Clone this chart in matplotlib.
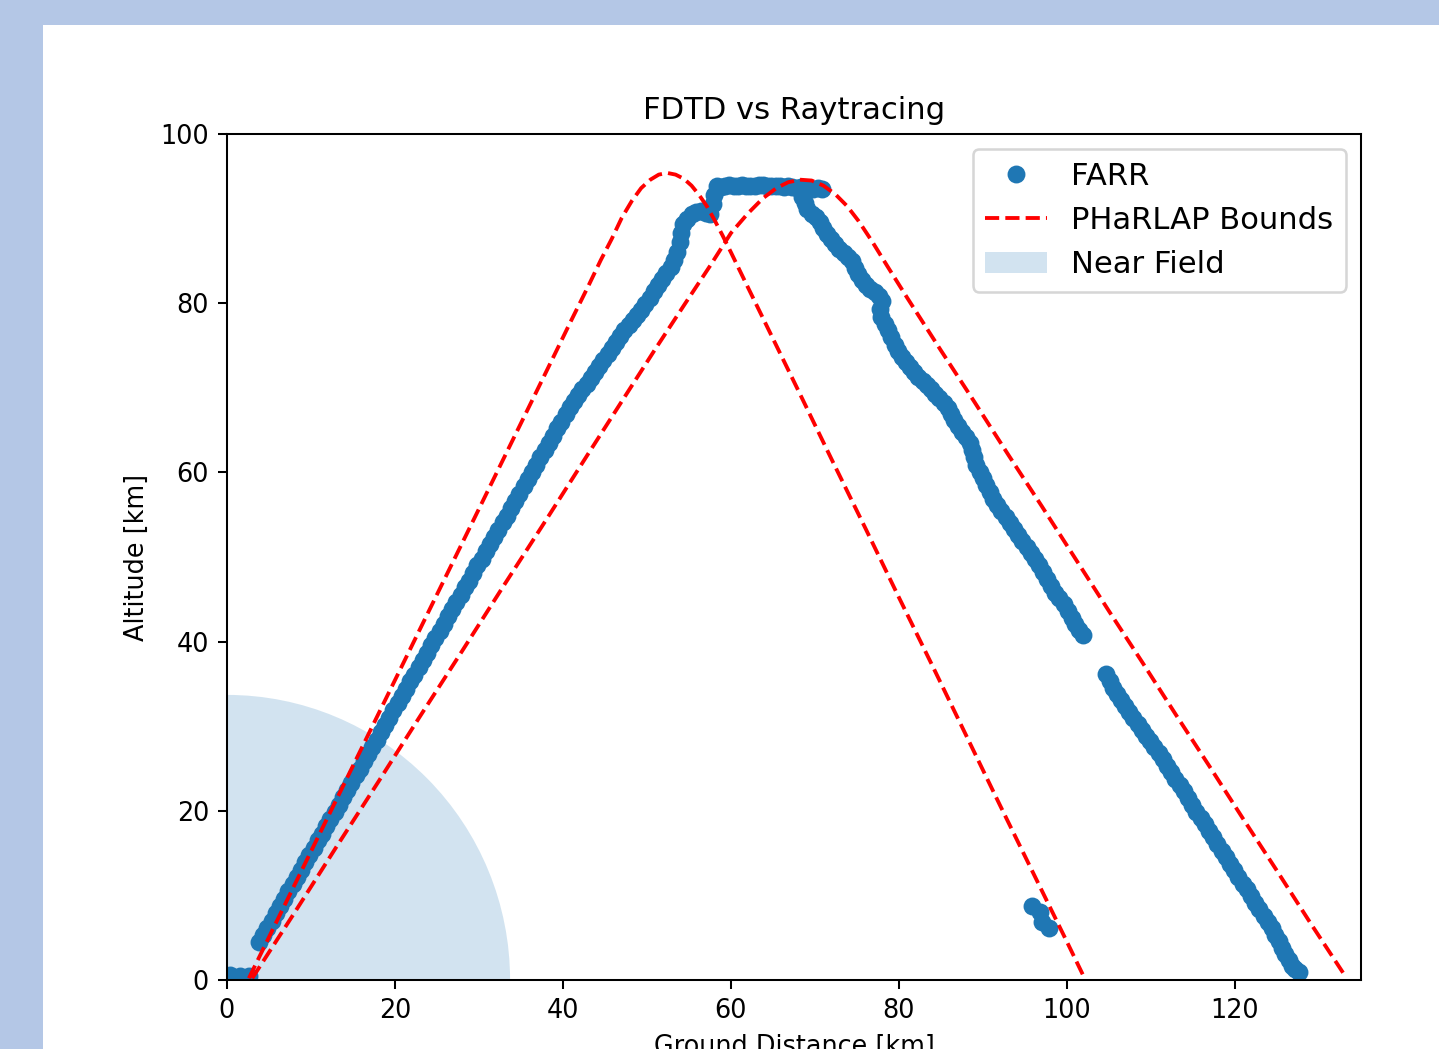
import matplotlib
matplotlib.use("Agg")
import matplotlib.pyplot as plt
from matplotlib.patches import Circle, Rectangle

# FARR ray path (ground distance, altitude) in km
farr_x = [
    0.4, 1.5, 2.6,
    3.8, 4.3, 4.8, 5.3, 5.8, 6.3, 6.8, 7.3, 7.8, 8.3, 8.8, 9.3, 9.8, 10.3,
    10.8, 11.3, 11.8, 12.3, 12.8, 13.3, 13.8, 14.3, 14.8, 15.3, 15.8, 16.3,
    16.8, 17.3, 17.8, 18.3, 18.8, 19.3, 19.8, 20.3, 20.8, 21.3, 21.8, 22.3,
    22.8, 23.3, 23.8, 24.3, 24.8, 25.3, 25.8, 26.3, 26.8, 27.3, 27.8, 28.3,
    28.8, 29.3, 29.8, 30.3, 30.8, 31.3, 31.8, 32.3, 32.8, 33.3, 33.8, 34.3,
    34.8, 35.3, 35.8, 36.3, 36.8, 37.3, 37.8, 38.3, 38.8, 39.3, 39.8, 40.3,
    40.8, 41.3, 41.8, 42.3, 42.8, 43.3, 43.8, 44.3, 44.8, 45.3, 45.8, 46.3,
    46.8, 47.3, 47.8, 48.3, 48.8, 49.3, 49.8, 50.3, 50.8, 51.3, 51.8, 52.3,
    52.8, 53.2, 53.6, 53.9, 54.1, 54.3, 54.8, 55.3, 55.8, 56.4, 57.0, 57.5,
    57.8, 58.0, 58.3,
    58.8, 59.3, 59.8, 60.3, 60.8, 61.3, 61.8, 62.3, 62.8, 63.3, 63.8, 64.3,
    64.8, 65.3, 65.8, 66.3, 66.8, 67.3, 67.8, 68.3, 68.8, 69.3, 69.8, 70.3,
    70.8,
    68.5, 68.8, 69.1, 69.6, 70.1, 70.6, 71.0, 71.4, 71.9, 72.4, 72.9, 73.4,
    73.9, 74.4, 74.8, 75.1, 75.6, 76.1, 76.6, 77.1, 77.6, 78.0, 77.7, 77.9,
    78.3, 78.7, 79.1, 79.5, 79.9, 80.3, 80.8, 81.3, 81.8, 82.3, 82.8, 83.3,
    83.8, 84.3, 84.8, 85.3, 85.8, 86.2, 86.6, 87.0, 87.5, 88.0, 88.4, 88.7,
    88.9, 89.2, 89.6, 90.0, 90.4, 90.8, 91.2, 91.7, 92.2, 92.7, 93.2, 93.7,
    94.2, 94.7, 95.2, 95.7, 96.2, 96.7, 97.2, 97.6, 98.1, 98.6, 99.1, 99.6,
    100.1, 100.6, 101.0, 101.4, 101.9,
    95.8, 96.8, 97.0, 97.8,
    104.7, 105.1, 105.5, 105.9, 106.4, 106.9, 107.4, 107.9, 108.4, 108.9,
    109.4, 109.9, 110.4, 110.9, 111.4, 111.9, 112.4, 112.9, 113.4, 113.9,
    114.4, 114.9, 115.4, 115.9, 116.4, 116.9, 117.4, 117.9, 118.4, 118.9,
    119.4, 119.9, 120.4, 120.9, 121.4, 121.9, 122.4, 122.9, 123.4, 123.9,
    124.4, 124.8, 125.2, 125.6, 126.0, 126.4, 126.8, 127.2, 127.6,
]
farr_y = [
    0.6, 0.5, 0.5,
    4.5, 5.3, 6.2, 7.0, 7.9, 8.8, 9.6, 10.5, 11.3, 12.2, 13.0, 13.9, 14.8, 15.6,
    16.5, 17.3, 18.2, 19.0, 19.9, 20.7, 21.6, 22.5, 23.3, 24.2, 25.0, 25.9,
    26.7, 27.6, 28.4, 29.3, 30.1, 31.0, 31.9, 32.7, 33.6, 34.4, 35.3, 36.1,
    37.0, 37.8, 38.7, 39.6, 40.4, 41.3, 42.1, 43.0, 43.8, 44.7, 45.5, 46.4,
    47.2, 48.1, 49.0, 49.8, 50.7, 51.5, 52.4, 53.2, 54.1, 54.9, 55.8, 56.6,
    57.5, 58.4, 59.2, 60.1, 60.9, 61.8, 62.6, 63.5, 64.3, 65.2, 66.0, 66.9,
    67.7, 68.4, 69.1, 69.8, 70.5, 71.2, 71.9, 72.6, 73.3, 74.0, 74.7, 75.4,
    76.1, 76.8, 77.4, 78.0, 78.6, 79.2, 79.9, 80.6, 81.4, 82.2, 82.9, 83.6,
    84.3, 85.1, 86.1, 87.2, 88.3, 89.4, 90.0, 90.5, 90.8, 90.9, 90.7, 90.6,
    91.7, 92.8, 93.8,
    93.7, 93.9, 94.0, 93.8, 93.9, 94.0, 93.9, 93.8, 93.9, 94.0, 94.0, 93.9,
    93.8, 93.9, 93.8, 93.7, 93.8, 93.7, 93.6, 93.7, 93.5, 93.6, 93.5, 93.6,
    93.5,
    92.6, 91.8, 91.1, 90.6, 90.2, 89.6, 88.9, 88.2, 87.6, 87.0, 86.4, 85.9,
    85.5, 85.0, 84.2, 83.4, 82.8, 82.2, 81.7, 81.3, 80.8, 80.3, 79.3, 78.4,
    77.6, 76.8, 76.0, 75.1, 74.3, 73.6, 73.0, 72.4, 71.9, 71.3, 70.8, 70.3,
    69.8, 69.3, 68.8, 68.2, 67.6, 66.9, 66.2, 65.5, 64.8, 64.2, 63.5, 62.7,
    61.8, 60.9, 60.1, 59.3, 58.5, 57.7, 56.9, 56.1, 55.4, 54.7, 54.0, 53.3,
    52.6, 51.9, 51.2, 50.5, 49.8, 49.0, 48.2, 47.4, 46.6, 45.8, 45.1, 44.4,
    43.6, 42.8, 42.1, 41.4, 40.8,
    8.7, 8.0, 6.9, 6.1,
    36.2, 35.3, 34.5, 33.8, 33.1, 32.4, 31.7, 31.0, 30.3, 29.6,
    28.9, 28.2, 27.5, 26.8, 26.1, 25.3, 24.6, 23.8, 23.0, 22.3,
    21.5, 20.7, 19.9, 19.1, 18.4, 17.6, 16.9, 16.1, 15.3, 14.5,
    13.7, 13.0, 12.2, 11.4, 10.7, 9.9, 9.1, 8.4, 7.6, 6.9,
    6.1, 5.3, 4.6, 3.8, 3.1, 2.4, 1.7, 1.3, 1.0,
]

# PHaRLAP ray bounds
inner_x = [2.6, 6.0, 10.0, 14.0, 18.0, 22.0, 26.0, 30.0, 34.0, 38.0, 41.0,
           43.0, 44.5, 45.8, 47.0, 48.2, 49.3, 50.4, 51.4, 52.4, 53.4, 54.4,
           55.3, 56.2, 57.1, 58.0, 59.0, 60.0, 62.0, 65.0, 68.0, 72.0, 76.0,
           80.0, 84.0, 88.0, 92.0, 96.0, 100.0, 101.9]
inner_y = [0.2, 7.1, 15.2, 23.3, 31.4, 39.5, 47.6, 55.7, 63.8, 71.9, 78.0,
           82.0, 85.1, 87.6, 90.1, 92.1, 93.6, 94.6, 95.2, 95.4, 95.2, 94.7,
           93.9, 92.8, 91.5, 89.9, 88.0, 86.0, 81.9, 75.8, 69.7, 61.5, 53.4,
           45.2, 37.1, 28.9, 20.7, 12.6, 4.5, 0.6]
outer_x = [3.0, 8.0, 13.0, 18.0, 23.0, 28.0, 33.0, 38.0, 43.0, 47.0, 51.0,
           54.5, 57.5, 60.0, 62.0, 63.8, 65.4, 66.8, 68.2, 69.6, 71.0, 72.4,
           73.8, 75.2, 76.8, 78.6, 81.0, 85.0, 89.0, 93.0, 97.0, 101.0, 105.0,
           109.0, 113.0, 117.0, 121.0, 125.0, 129.0, 133.1]
outer_y = [0.2, 7.9, 15.7, 23.4, 31.2, 38.9, 46.7, 54.4, 62.2, 68.4, 74.6,
           79.9, 84.4, 88.3, 90.6, 92.4, 93.6, 94.3, 94.6, 94.5, 93.9, 92.9,
           91.5, 89.7, 87.3, 84.4, 80.6, 74.4, 68.3, 62.1, 56.0, 49.8, 43.6,
           37.5, 31.3, 25.2, 19.0, 12.9, 6.7, 0.5]

near_field_radius = 33.7

DPI = 184
fig = plt.figure(figsize=(1439 / DPI, 1049 / DPI), dpi=DPI, facecolor="#b4c7e6")
fig.add_artist(Rectangle((43 / 1439, 0), 1 - 43 / 1439, 1 - 25 / 1049,
                         transform=fig.transFigure, facecolor="white",
                         edgecolor="none", zorder=0))

ax = fig.add_axes([227 / 1439, 69 / 1049, 1134 / 1439, 846 / 1049])
ax.plot(farr_x, farr_y, "o", color="C0", label="FARR")
ax.plot(inner_x, inner_y, "r--", label="PHaRLAP Bounds")
ax.plot(outer_x, outer_y, "r--")
ax.add_patch(Circle((0, 0), near_field_radius, color="C0", alpha=0.2,
                    linewidth=0, label="Near Field"))

ax.set_xlim(0, 135)
ax.set_ylim(0, 100)
ax.set_title("FDTD vs Raytracing")
ax.set_xlabel("Ground Distance [km]")
ax.set_ylabel("Altitude [km]")
ax.legend(loc="upper right", fontsize=12)

fig.savefig("out.png", dpi=DPI, facecolor=fig.get_facecolor())
